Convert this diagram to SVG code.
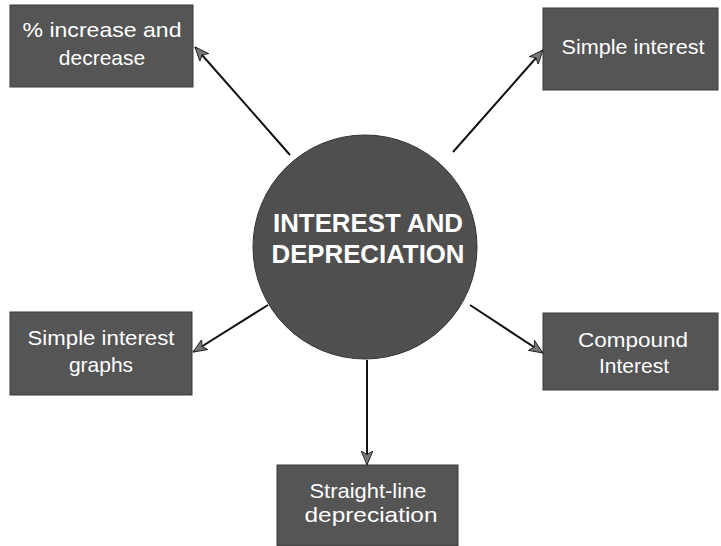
<svg xmlns="http://www.w3.org/2000/svg" width="721" height="546" viewBox="0 0 721 546">
<style>
.box{fill:#555555;stroke:#3a3a3a;stroke-width:1}
.lbl{font-family:"Liberation Sans",Arial,sans-serif;font-size:21px;fill:#ffffff;text-anchor:middle}
.title{font-family:"Liberation Sans",Arial,sans-serif;font-weight:bold;font-size:25px;fill:#ffffff;text-anchor:middle}
.conn{stroke:#111111;stroke-width:2;fill:none;marker-end:url(#ah)}
</style>
<defs>
<marker id="ah" viewBox="0 0 12 10" refX="12" refY="5" markerWidth="7" markerHeight="6" orient="auto" markerUnits="strokeWidth">
<path d="M0,0 L12,5 L0,10 L3,5 Z" fill="#777777" stroke="#222222" stroke-width="0.8"/>
</marker>
</defs>
<rect width="721" height="546" fill="#ffffff"/>
<g id="connectors">
<line class="conn" x1="290" y1="155" x2="195" y2="47"/>
<line class="conn" x1="453" y1="152" x2="543" y2="50"/>
<line class="conn" x1="268" y1="305" x2="193" y2="352"/>
<line class="conn" x1="470" y1="305" x2="543" y2="353"/>
<line class="conn" x1="367" y1="360" x2="367" y2="465"/>
</g>
<g id="center">
<circle cx="365" cy="247" r="112" fill="#4f4f4f" stroke="#333333" stroke-width="1"/>
<text class="title" x="368" y="232" textLength="190" lengthAdjust="spacingAndGlyphs">INTEREST AND</text>
<text class="title" x="368" y="263" textLength="193" lengthAdjust="spacingAndGlyphs">DEPRECIATION</text>
</g>
<g id="pct">
<rect class="box" x="10" y="5" width="183" height="82"/>
<text class="lbl" x="102" y="37" textLength="159" lengthAdjust="spacingAndGlyphs">% increase and</text>
<text class="lbl" x="102" y="65">decrease</text>
</g>
<g id="simple">
<rect class="box" x="543" y="8" width="175" height="82"/>
<text class="lbl" x="633" y="54" textLength="143" lengthAdjust="spacingAndGlyphs">Simple interest</text>
</g>
<g id="graphs">
<rect class="box" x="10" y="312" width="182" height="83"/>
<text class="lbl" x="101" y="345" textLength="147" lengthAdjust="spacingAndGlyphs">Simple interest</text>
<text class="lbl" x="101" y="372">graphs</text>
</g>
<g id="compound">
<rect class="box" x="543" y="313" width="175" height="77"/>
<text class="lbl" x="633" y="347" textLength="110" lengthAdjust="spacingAndGlyphs">Compound</text>
<text class="lbl" x="634" y="373">Interest</text>
</g>
<g id="straight">
<rect class="box" x="277" y="465" width="181" height="81"/>
<text class="lbl" x="368" y="498" textLength="117" lengthAdjust="spacingAndGlyphs">Straight-line</text>
<text class="lbl" x="371" y="522" textLength="133" lengthAdjust="spacingAndGlyphs">depreciation</text>
</g>
</svg>
